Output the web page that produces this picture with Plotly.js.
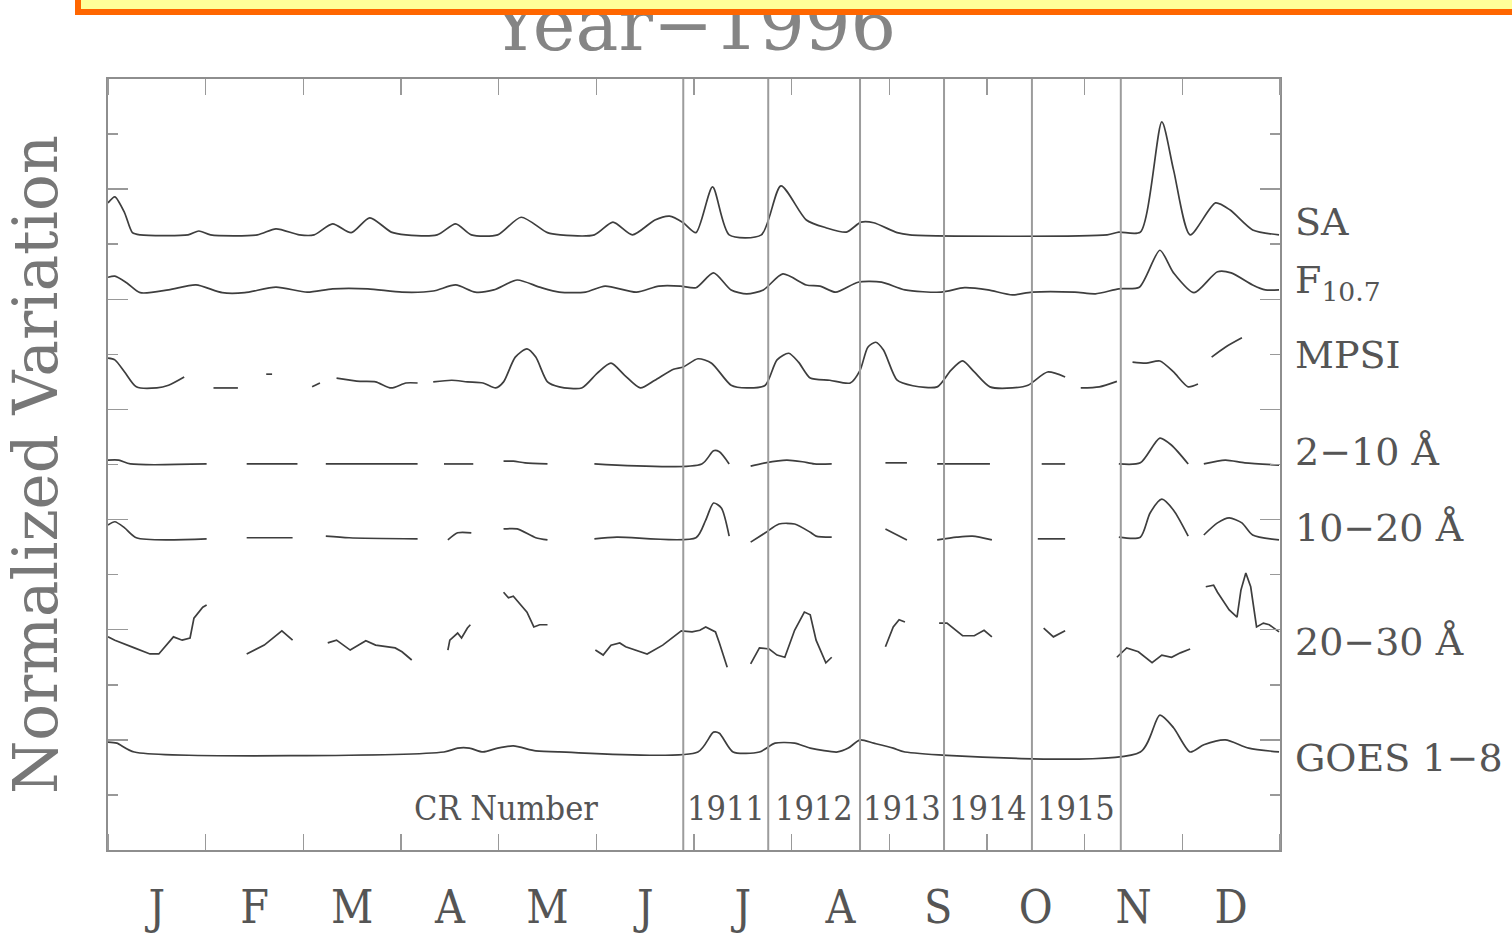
<!DOCTYPE html>
<html>
<head>
<meta charset="utf-8">
<script src="https://cdn.plot.ly/plotly-3.0.1.min.js"></script>
<style>
html,body{margin:0;padding:0;background:#fff;}
#chart{width:1512px;height:936px;}
</style>
</head>
<body>
<div id="chart"></div>
<script>
// ---- Data (x in months from Jan 1 1996, y in normalized-variation axis units) ----
const months = ['J','F','M','A','M','J','J','A','S','O','N','D'];
const monthCenters = [0.5,1.5,2.5,3.5,4.5,5.5,6.5,7.5,8.5,9.5,10.5,11.5];
const crBounds = [5.89, 6.76, 7.70, 8.56, 9.46, 10.37];
const crNumbers = ['1911','1912','1913','1914','1915'];

const seriesNames = ['SA','F<sub>10.7</sub>','MPSI','2\u221210 \u00C5','10\u221220 \u00C5','20\u221230 \u00C5','GOES 1\u22128'];
const labelY = [11.40, 10.31, 8.99, 7.23, 5.85, 3.78, 1.67];

const saX = [0.00,0.07,0.17,0.25,0.33,0.82,0.93,1.05,1.53,1.72,1.96,2.11,2.30,2.49,2.68,2.90,3.05,3.37,3.56,3.72,3.99,4.23,4.50,4.63,4.98,5.17,5.37,5.60,5.75,5.89,6.02,6.19,6.36,6.69,6.89,7.15,7.35,7.56,7.71,7.84,8.08,8.21,10.23,10.35,10.57,10.79,10.91,11.08,11.34,11.49,11.72,11.99];
const saY = [11.75,11.86,11.57,11.21,11.17,11.17,11.24,11.17,11.17,11.28,11.17,11.17,11.37,11.21,11.48,11.22,11.17,11.17,11.37,11.17,11.17,11.49,11.21,11.17,11.17,11.40,11.17,11.44,11.51,11.39,11.21,12.04,11.17,11.17,12.06,11.44,11.30,11.22,11.40,11.39,11.21,11.17,11.17,11.22,11.22,13.22,12.35,11.17,11.75,11.62,11.26,11.17];

const f107X = [0.00,0.07,0.19,0.33,0.62,0.90,1.17,1.40,1.72,2.04,2.30,2.66,3.01,3.33,3.56,3.76,3.95,4.19,4.42,4.62,4.89,5.09,5.41,5.64,5.86,6.02,6.20,6.38,6.54,6.71,6.91,7.15,7.29,7.45,7.68,7.92,8.16,8.53,8.77,9.01,9.26,9.46,9.90,10.11,10.35,10.56,10.77,10.91,11.12,11.36,11.50,11.72,11.85,11.99];
const f107Y = [10.40,10.42,10.30,10.12,10.17,10.26,10.12,10.12,10.22,10.13,10.19,10.19,10.13,10.15,10.26,10.13,10.17,10.35,10.22,10.13,10.13,10.24,10.13,10.24,10.24,10.21,10.48,10.17,10.10,10.17,10.46,10.26,10.24,10.13,10.31,10.31,10.17,10.13,10.21,10.17,10.08,10.13,10.13,10.10,10.19,10.22,10.89,10.48,10.12,10.50,10.48,10.26,10.17,10.17];

const mpsiX = [0.00,0.07,0.17,0.29,0.50,0.62,0.78,null,1.08,1.33,null,1.62,1.68,null,2.09,2.17,null,2.34,2.58,2.74,2.90,3.05,3.17,null,3.33,3.52,3.68,3.84,3.97,4.05,4.17,4.29,4.38,4.50,4.62,4.85,5.01,5.15,5.29,5.45,5.60,5.79,5.89,6.04,6.18,6.38,6.54,6.73,6.85,6.97,7.07,7.19,7.39,7.60,7.70,7.78,7.86,7.94,8.08,8.24,8.49,8.63,8.75,8.87,9.03,9.26,9.42,9.62,9.80,null,9.96,10.15,10.33,null,10.49,10.63,10.77,10.91,11.06,11.16,null,11.30,11.44,11.61];
const mpsiY = [8.93,8.90,8.68,8.41,8.39,8.44,8.59,null,8.39,8.39,null,8.64,8.64,null,8.41,8.48,null,8.57,8.51,8.50,8.39,8.48,8.48,null,8.50,8.53,8.50,8.48,8.39,8.50,8.95,9.10,8.95,8.50,8.41,8.39,8.66,8.84,8.62,8.39,8.53,8.73,8.77,8.92,8.84,8.44,8.39,8.44,8.90,9.02,8.86,8.57,8.53,8.48,8.71,9.13,9.22,9.08,8.53,8.43,8.41,8.71,8.88,8.68,8.41,8.39,8.44,8.68,8.59,null,8.39,8.41,8.51,null,8.86,8.84,8.88,8.68,8.41,8.46,null,8.95,9.13,9.30];

const x210X = [0.00,0.11,0.23,1.01,null,1.42,1.94,null,2.23,3.17,null,3.44,3.74,null,4.05,4.15,4.27,4.50,null,4.98,6.08,6.20,6.26,6.36,null,6.58,6.73,6.95,7.11,7.23,7.41,null,7.96,8.18,null,8.49,9.03,null,9.56,9.80,null,10.35,10.57,10.77,10.89,11.06,null,11.22,11.44,11.64,11.99];
const x210Y = [7.08,7.08,7.01,7.01,null,7.01,7.01,null,7.01,7.01,null,7.01,7.01,null,7.06,7.06,7.03,7.01,null,7.01,7.01,7.25,7.23,7.01,null,6.97,7.03,7.08,7.05,7.01,7.01,null,7.03,7.03,null,7.01,7.01,null,7.01,7.01,null,7.01,7.03,7.48,7.35,7.01,null,7.01,7.08,7.03,6.99];

const x1020X = [0.00,0.07,0.17,0.29,1.01,null,1.42,1.89,null,2.23,2.47,3.17,null,3.48,3.58,3.72,null,4.05,4.19,4.38,4.50,null,4.98,5.21,6.02,6.12,6.20,6.28,6.36,null,6.58,6.73,6.87,7.03,7.19,7.25,7.41,null,7.96,8.18,null,8.49,8.69,8.85,9.05,null,9.52,9.80,null,10.35,10.57,10.67,10.79,10.91,11.06,null,11.22,11.36,11.48,11.61,11.72,11.99];
const x1020Y = [5.90,5.96,5.85,5.67,5.65,null,5.67,5.67,null,5.70,5.67,5.65,null,5.63,5.76,5.76,null,5.83,5.83,5.67,5.63,null,5.65,5.68,5.67,5.99,6.30,6.21,5.70,null,5.59,5.76,5.92,5.92,5.77,5.70,5.68,null,5.83,5.63,null,5.63,5.68,5.70,5.63,null,5.65,5.65,null,5.68,5.68,6.12,6.37,6.17,5.70,null,5.72,5.94,6.03,5.94,5.72,5.63];

const x2030X = [0.00,0.07,0.27,0.43,0.52,0.67,0.76,0.84,0.88,0.97,1.01,null,1.42,1.60,1.78,1.84,1.89,null,2.25,2.34,2.48,2.64,2.74,2.94,3.01,3.11,null,3.48,3.50,3.58,3.62,3.68,3.71,null,4.05,4.10,4.15,4.23,4.29,4.36,4.42,4.50,null,4.99,5.07,5.15,5.24,5.30,5.52,5.68,5.87,5.98,6.06,6.12,6.22,6.26,6.34,null,6.58,6.67,6.77,6.85,6.93,7.03,7.13,7.19,7.25,7.35,7.41,null,7.96,8.04,8.10,8.16,null,8.51,8.59,8.75,8.87,8.97,9.05,null,9.58,9.68,9.80,null,10.33,10.43,10.55,10.69,10.79,10.89,10.98,11.08,null,11.24,11.32,11.36,11.48,11.56,11.60,11.65,11.70,11.76,11.83,11.89,11.99];
const x2030Y = [3.87,3.81,3.67,3.56,3.56,3.87,3.81,3.85,4.21,4.41,4.45,null,3.56,3.72,3.98,3.89,3.81,null,3.76,3.81,3.63,3.80,3.72,3.67,3.60,3.45,null,3.63,3.81,3.94,3.85,4.03,4.09,null,4.68,4.58,4.61,4.45,4.32,4.05,4.09,4.09,null,3.63,3.54,3.72,3.76,3.69,3.56,3.72,3.98,3.96,3.99,4.05,3.96,3.76,3.32,null,3.38,3.67,3.65,3.54,3.50,3.99,4.32,4.27,3.81,3.40,3.50,null,3.69,4.05,4.18,4.14,null,4.12,4.12,3.89,3.89,3.99,3.87,null,4.03,3.87,3.98,null,3.50,3.67,3.60,3.40,3.54,3.50,3.58,3.65,null,4.78,4.81,4.68,4.36,4.23,4.72,5.03,4.78,4.05,4.12,4.09,3.96];

const goesX = [0.00,0.09,0.27,3.44,3.58,3.70,3.84,3.99,4.15,4.38,4.62,6.04,6.20,6.26,6.40,6.67,6.83,7.03,7.19,7.47,7.58,7.70,7.84,8.04,8.16,10.57,10.77,10.91,11.08,11.22,11.44,11.68,11.99];
const goesY = [1.96,1.94,1.78,1.78,1.85,1.85,1.78,1.85,1.89,1.80,1.78,1.78,2.14,2.12,1.78,1.78,1.94,1.94,1.85,1.78,1.85,2.00,1.94,1.85,1.78,1.78,2.45,2.22,1.78,1.91,2.00,1.85,1.78];

// ---- Styling ----
const LINE = '#3e3e3e';
const FRAME = '#8e8e8e';
const SERIF = 'DejaVu Serif, Liberation Serif, serif';
const SERIFC = 'DejaVu Serif Condensed, DejaVu Serif, Liberation Serif, serif';

function tr(x, y, shape) {
  return {x: x, y: y, type: 'scatter', mode: 'lines', connectgaps: false,
    line: {color: LINE, width: 1.7, shape: shape, smoothing: 0.7},
    hoverinfo: 'skip', showlegend: false};
}
const data = [
  tr(saX, saY, 'spline'),
  tr(f107X, f107Y, 'spline'),
  tr(mpsiX, mpsiY, 'spline'),
  tr(x210X, x210Y, 'spline'),
  tr(x1020X, x1020Y, 'spline'),
  tr(x2030X, x2030Y, 'linear'),
  tr(goesX, goesY, 'spline')
];

const shapes = crBounds.map(b => ({type: 'line', xref: 'x', yref: 'paper', x0: b, x1: b, y0: 0, y1: 1,
  line: {color: '#9c9c9c', width: 2}, layer: 'above'}));

const annotations = [];
// banner box at the very top (drawn over the title)
annotations.push({xref: 'paper', yref: 'paper', x: -0.02816, y: 1.1284, xanchor: 'left', yanchor: 'top',
  text: ' ', showarrow: false, width: 1460, height: 23, borderpad: 0, borderwidth: 6,
  bgcolor: '#ffff99', bordercolor: '#ff6600'});
// series labels on the right
seriesNames.forEach((n, i) => annotations.push({xref: 'paper', yref: 'y', x: 1.011, y: labelY[i],
  xanchor: 'left', yanchor: 'middle', text: n, showarrow: false,
  font: {family: SERIF, size: 38, color: '#555'}}));
// CR labels
annotations.push({xref: 'x', yref: 'y', x: 4.08, y: 0.76, text: 'CR Number', showarrow: false,
  xanchor: 'center', yanchor: 'middle', font: {family: SERIFC, size: 34, color: '#555'}});
crNumbers.forEach((c, i) => annotations.push({xref: 'x', yref: 'y', x: (crBounds[i] + crBounds[i + 1]) / 2, y: 0.76,
  text: c, showarrow: false, xanchor: 'center', yanchor: 'middle',
  font: {family: SERIFC, size: 34, color: '#555'}}));

const layout = {
  width: 1512, height: 936,
  margin: {l: 108, r: 232, t: 79, b: 86},
  paper_bgcolor: '#fff', plot_bgcolor: '#fff',
  showlegend: false,
  title: {text: 'Year\u22121996', x: 0.5, xref: 'paper', xanchor: 'center', y: 0.973, yref: 'container', yanchor: 'middle',
    font: {family: SERIF, size: 72, color: '#858585'}},
  xaxis: {range: [0, 12], tickmode: 'array', tickvals: monthCenters, ticktext: months,
    ticks: '', showgrid: false, zeroline: false, showline: true, mirror: 'ticks',
    linecolor: FRAME, linewidth: 2, ticklabelstandoff: 16,
    tickfont: {family: SERIFC, size: 46, color: '#555'},
    minor: {tickmode: 'linear', tick0: 0, dtick: 1, ticks: 'inside', ticklen: 16, tickwidth: 1.5, tickcolor: '#999', showgrid: false}},
  yaxis: {range: [0, 14], tickmode: 'linear', tick0: 0, dtick: 2, ticks: 'inside', ticklen: 20, tickwidth: 1.5, tickcolor: '#999',
    showticklabels: false, showgrid: false, zeroline: false, showline: true, mirror: 'ticks',
    linecolor: FRAME, linewidth: 2,
    minor: {tickmode: 'linear', tick0: 1, dtick: 2, ticks: 'inside', ticklen: 10, tickwidth: 1.5, tickcolor: '#999', showgrid: false},
    title: {text: 'Normalized Variation', standoff: 30, font: {family: SERIF, size: 61, color: '#777'}}},
  shapes: shapes,
  annotations: annotations
};

Plotly.newPlot('chart', data, layout, {displayModeBar: false, staticPlot: true});
</script>
</body>
</html>
